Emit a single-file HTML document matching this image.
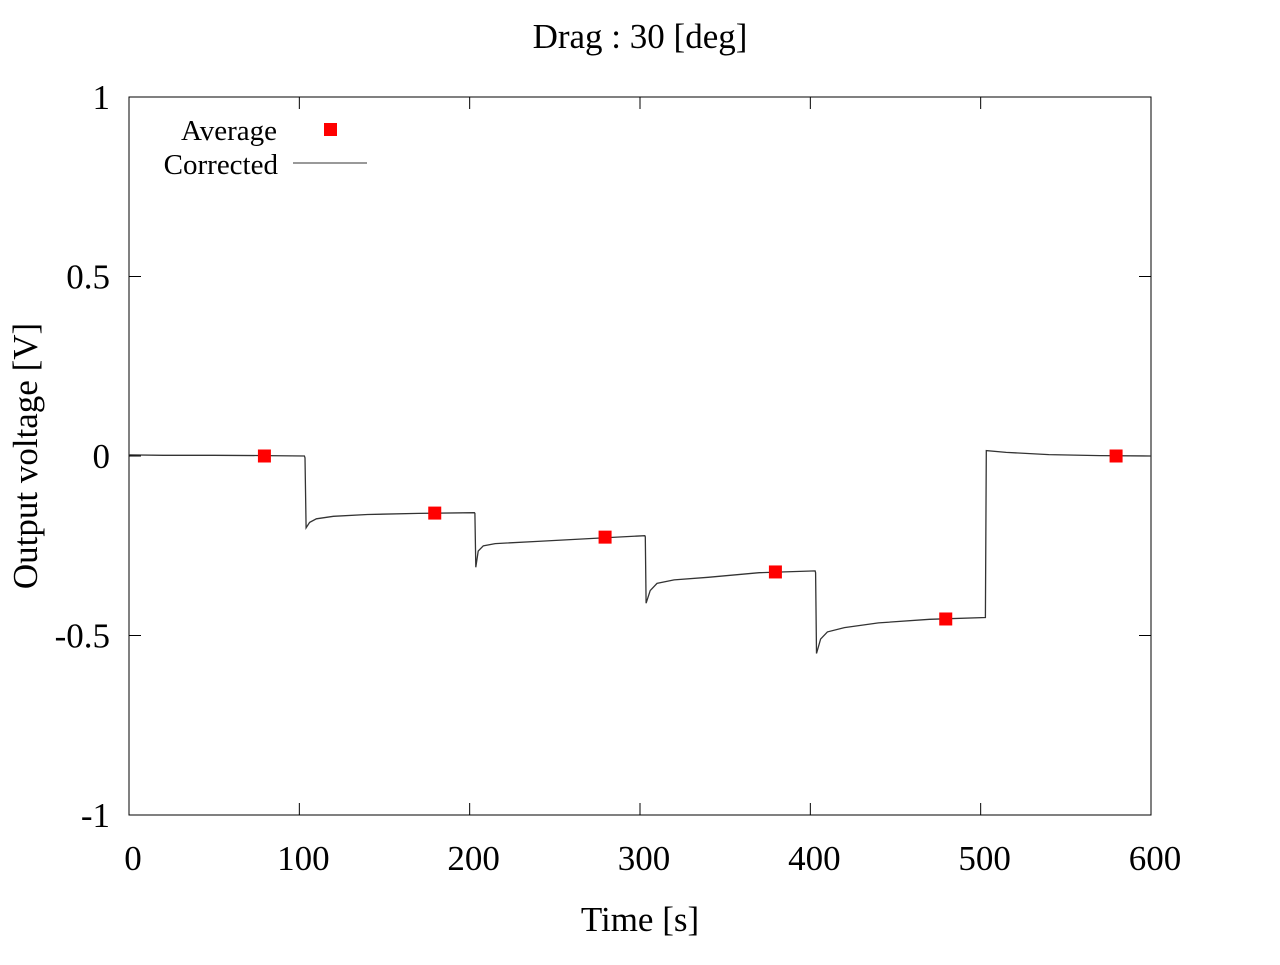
<!DOCTYPE html>
<html><head><meta charset="utf-8"><style>
html,body{margin:0;padding:0;background:#fff;}
svg text{font-family:"Liberation Serif",serif;fill:#000;}
</style></head><body>
<svg id="chart" width="1280" height="960" xmlns="http://www.w3.org/2000/svg">
<rect width="1280" height="960" fill="#fff"/>
<text x="640" y="48" font-size="35" text-anchor="middle">Drag : 30 [deg]</text>
<rect x="129" y="97" width="1022" height="718" fill="none" stroke="#000" stroke-width="1"/>
<g id="ticks"></g>
<g id="series"></g>
<text x="640" y="931" font-size="35" text-anchor="middle">Time [s]</text>
<text transform="translate(37,456) rotate(-90)" font-size="35" text-anchor="middle">Output voltage [V]</text>
<g>
<text x="277" y="140" font-size="29" text-anchor="end">Average</text>
<rect x="324" y="123" width="13" height="13" fill="#f00"/>
<text x="278" y="174" font-size="29" text-anchor="end">Corrected</text>
<line x1="293" y1="163" x2="367" y2="163" stroke="#333" stroke-width="1"/>
</g>
</svg>
<script>
const xTicks=[0,100,200,300,400,500,600];
const yTicks=[1,0.5,0,-0.5,-1];
const yTickLabels=["1","0.5","0","-0.5","-1"];
const avgTimes=[79.5,179.5,279.5,379.5,479.5,579.5];
const avgValues=[0,-0.159,-0.226,-0.323,-0.454,0];
const lineTimes=[0,20,50,80,103,103.3,104,106,110,120,140,170,202.8,203.1,203.6,205,208,215,240,270,302.8,303.1,303.6,306,310,320,340,370,402.8,403.1,403.6,406,410,420,440,470,502.8,503.3,515,540,570,600];
const lineValues=[0.003,0.002,0.002,0.001,0,-0.005,-0.2,-0.185,-0.175,-0.168,-0.163,-0.16,-0.158,-0.16,-0.31,-0.265,-0.25,-0.244,-0.238,-0.23,-0.222,-0.225,-0.41,-0.375,-0.355,-0.345,-0.338,-0.325,-0.32,-0.325,-0.55,-0.51,-0.49,-0.478,-0.465,-0.455,-0.45,0.015,0.01,0.004,0.001,0];
const X=t=>129+t*(1022/600);
const Y=v=>456-v*359;
const NS="http://www.w3.org/2000/svg";
const tk=document.getElementById('ticks');
function mk(tag,attrs,parent){const e=document.createElementNS(NS,tag);for(const k in attrs)e.setAttribute(k,attrs[k]);parent.appendChild(e);return e;}
xTicks.forEach(t=>{
 const a=mk('line',{x1:X(t),x2:X(t),y1:815,y2:803,stroke:'#000'},tk);
 
 
 const b=mk('line',{x1:X(t),x2:X(t),y1:97,y2:109,stroke:'#000'},tk);
 
 
 const l=mk('text',{x:X(t)+4,y:870,'font-size':35,'text-anchor':'middle'},tk);l.textContent=String(t);
 
 
});
yTicks.forEach((v,i)=>{
 const a=mk('line',{x1:129,x2:141,y1:Y(v),y2:Y(v),stroke:'#000'},tk);
 
 
 const b=mk('line',{x1:1151,x2:1139,y1:Y(v),y2:Y(v),stroke:'#000'},tk);
 
 
 const l=mk('text',{x:110,y:Y(v)+12,'font-size':35,'text-anchor':'end'},tk);l.textContent=yTickLabels[i];
 
 
});
const sg=document.getElementById('series');
const pts=lineTimes.map((t,i)=>X(t).toFixed(1)+','+Y(lineValues[i]).toFixed(1)).join(' ');
const pl=mk('polyline',{points:pts,fill:'none',stroke:'#333','stroke-width':1.3},sg);


avgTimes.forEach((t,i)=>{
 const r=mk('rect',{x:X(t)-6.5,y:Y(avgValues[i])-6.5,width:13,height:13,fill:'#f00'},sg);
 
 
});
</script>
</body></html>
